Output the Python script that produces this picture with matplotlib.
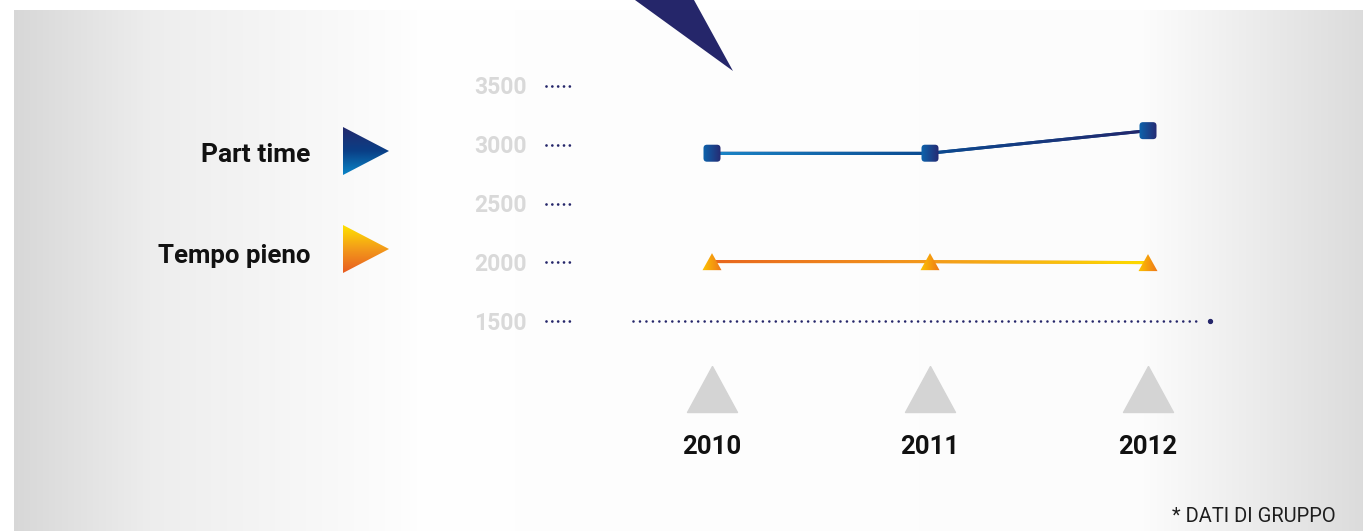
import numpy as np
import matplotlib
matplotlib.use('Agg')
import matplotlib.pyplot as plt
from matplotlib.patches import Polygon, FancyBboxPatch
from matplotlib.colors import LinearSegmentedColormap
from matplotlib.transforms import Affine2D, blended_transform_factory, offset_copy

# ---------------- data ----------------
years = [2010, 2011, 2012]
part_time = [2928, 2928, 3120]
tempo_pieno = [2005, 2005, 1997]
y_ticks = [1500, 2000, 2500, 3000, 3500]
series_names = ['Part time', 'Tempo pieno']
footnote = '* DATI DI GRUPPO'

# ---------------- styling ----------------
W, H = 1363, 531
NAVY = '#25266a'
PT_LINE = ['#1b85c7', '#0b4a90', '#25266a']      # colour at each year
TP_LINE = ['#e8661f', '#f39a1c', '#fddc00']
PT_MARK = ['#0c64ad', '#262a72']
TP_MARK = ['#fdc500', '#ee761b']

fig = plt.figure(figsize=(W / 100, H / 100), dpi=100)
fig.patch.set_facecolor('white')
pix = Affine2D().scale(1, -1).translate(0, H)   # top-left pixel coords -> display

bg = fig.add_axes([0, 0, 1, 1], zorder=0)
bg.set_axis_off()
bg.set_xlim(0, W)
bg.set_ylim(H, 0)

ax = fig.add_axes([603 / W, (H - 332.75) / H, 654 / W, 258.5 / H], zorder=1)
ax.set_xlim(2009.5, 2012.5)
ax.set_ylim(1400, 3600)
ax.set_axis_off()
ax.patch.set_alpha(0)


def grad(axis, clip, x0, x1, y0, y1, colors, horizontal=True, z=3):
    cmap = LinearSegmentedColormap.from_list('g', colors)
    arr = np.linspace(0, 1, 256)
    arr = arr[None, :] if horizontal else arr[:, None]
    im = axis.imshow(arr, cmap=cmap, extent=(x0, x1, y1, y0), origin='upper',
                     aspect='auto', interpolation='bilinear', zorder=z)
    im.set_transform(pix)
    clip.set_transform(pix)
    im.set_clip_path(clip)
    return im


# ---------------- background panel ----------------
cols = np.arange(14, W)
gray = np.interp(cols, [14, 150, 420, 1140, W], [0.845, 0.93, 0.997, 0.99, 0.862])
rgb = np.repeat(gray[None, :, None], 3, axis=2)
im = bg.imshow(rgb, extent=(14, W, H, 10), origin='upper', aspect='auto',
               interpolation='bilinear', zorder=0)
im.set_transform(pix)

# navy pointer at the top
bg.add_patch(Polygon([(635, 0), (694, 0), (733, 71)], closed=True,
                     facecolor=NAVY, edgecolor='none', transform=pix, zorder=1))

# legend triangles + labels
grad(bg, Polygon([(343, 127), (343, 175), (389, 151)], closed=True),
     343, 389, 127, 175, ['#24296c', '#0a3f86', '#0a86c8'], horizontal=False, z=2)
grad(bg, Polygon([(343, 225), (343, 273), (389, 249)], closed=True),
     343, 389, 225, 273, ['#ffe300', '#f39a1a', '#e85c22'], horizontal=False, z=2)
bg.text(310, 162, series_names[0], transform=pix, ha='right', va='baseline',
        fontsize=19, fontweight='bold', family='Roboto', color='#111111')
bg.text(310, 263.5, series_names[1], transform=pix, ha='right', va='baseline',
        fontsize=18.6, fontweight='bold', family='Roboto', color='#111111')

# footnote
bg.text(1336, 522, footnote, transform=pix, ha='right', va='baseline',
        fontsize=14.5, family='Roboto', color='#1e1e1e')

# ---------------- y scale ----------------
xpix_ydata = blended_transform_factory(pix, ax.transData)
lab_tr = offset_copy(xpix_ydata, fig=fig, x=0, y=-8.5, units='dots')
for v in y_ticks:
    ax.text(527, v, str(v), transform=lab_tr, ha='right', va='baseline',
            fontsize=16.5, fontweight='bold', family='Roboto',
            color='#d9d9d9', clip_on=False)
    ax.plot([546, 575], [v, v], transform=xpix_ydata, color=NAVY, lw=2.0,
            linestyle=(0, (0.001, 2.1)), dash_capstyle='round', clip_on=False)

# baseline dotted rule
ax.plot([633, 1200], [y_ticks[0], y_ticks[0]], transform=xpix_ydata, color=NAVY,
        lw=1.9, linestyle=(0, (0.001, 2.45)), dash_capstyle='round', clip_on=False)
ax.plot([1210], [y_ticks[0]], transform=xpix_ydata, color=NAVY, marker='o',
        ms=2.8, linestyle='none', clip_on=False)

# ---------------- x scale: grey triangles and years ----------------
xdata_ypix = blended_transform_factory(ax.transData, pix)
tri = [(0, 0.92), (-1, -0.92), (1, -0.92), (0, 0.92)]
ax.plot(years, [389] * len(years), transform=xdata_ypix, marker=tri, ms=36,
        color='#d4d4d4', linestyle='none', clip_on=False)
for yr in years:
    ax.text(yr, 454, str(yr), transform=xdata_ypix, ha='center', va='baseline',
            fontsize=18.5, fontweight='bold', family='Roboto', color='#111111',
            clip_on=False)

# ---------------- series ----------------
ax.plot(years, part_time, color=PT_LINE[1], lw=2.2, zorder=2, clip_on=False)
ax.plot(years, tempo_pieno, color=TP_LINE[1], lw=2.2, zorder=2, clip_on=False)


def to_pix(xs, ys):
    d = ax.transData.transform(np.column_stack([xs, ys]))
    return [(p[0], H - p[1]) for p in d]


def gradient_line(pts, colors, hw=1.5):
    for i in range(len(pts) - 1):
        (x0, y0), (x1, y1) = pts[i], pts[i + 1]
        dx, dy = x1 - x0, y1 - y0
        L = np.hypot(dx, dy)
        nx, ny = -dy / L * hw, dx / L * hw
        poly = Polygon([(x0 + nx, y0 + ny), (x1 + nx, y1 + ny),
                        (x1 - nx, y1 - ny), (x0 - nx, y0 - ny)], closed=True)
        grad(ax, poly, x0, x1, min(y0, y1) - 4, max(y0, y1) + 4,
             [colors[i], colors[i + 1]], horizontal=True, z=3)


pt_pix = to_pix(years, part_time)
tp_pix = to_pix(years, tempo_pieno)
gradient_line(pt_pix, PT_LINE)
gradient_line(tp_pix, TP_LINE)

for (px, py) in pt_pix:
    box = FancyBboxPatch((px - 8.5, py - 8.5), 17, 17,
                         boxstyle='round,pad=0,rounding_size=3.5')
    grad(ax, box, px - 9, px + 9, py - 9, py + 9, PT_MARK, horizontal=True, z=4)

for (px, py) in tp_pix:
    t = Polygon([(px - 9.5, py + 8.5), (px + 9.5, py + 8.5), (px, py - 8.5)], closed=True)
    grad(ax, t, px - 10, px + 10, py - 9, py + 9, TP_MARK, horizontal=True, z=4)

ax.set_xlim(2009.5, 2012.5)
ax.set_ylim(1400, 3600)
bg.set_xlim(0, W)
bg.set_ylim(H, 0)

fig.savefig('out.png', dpi=100, facecolor='white')
